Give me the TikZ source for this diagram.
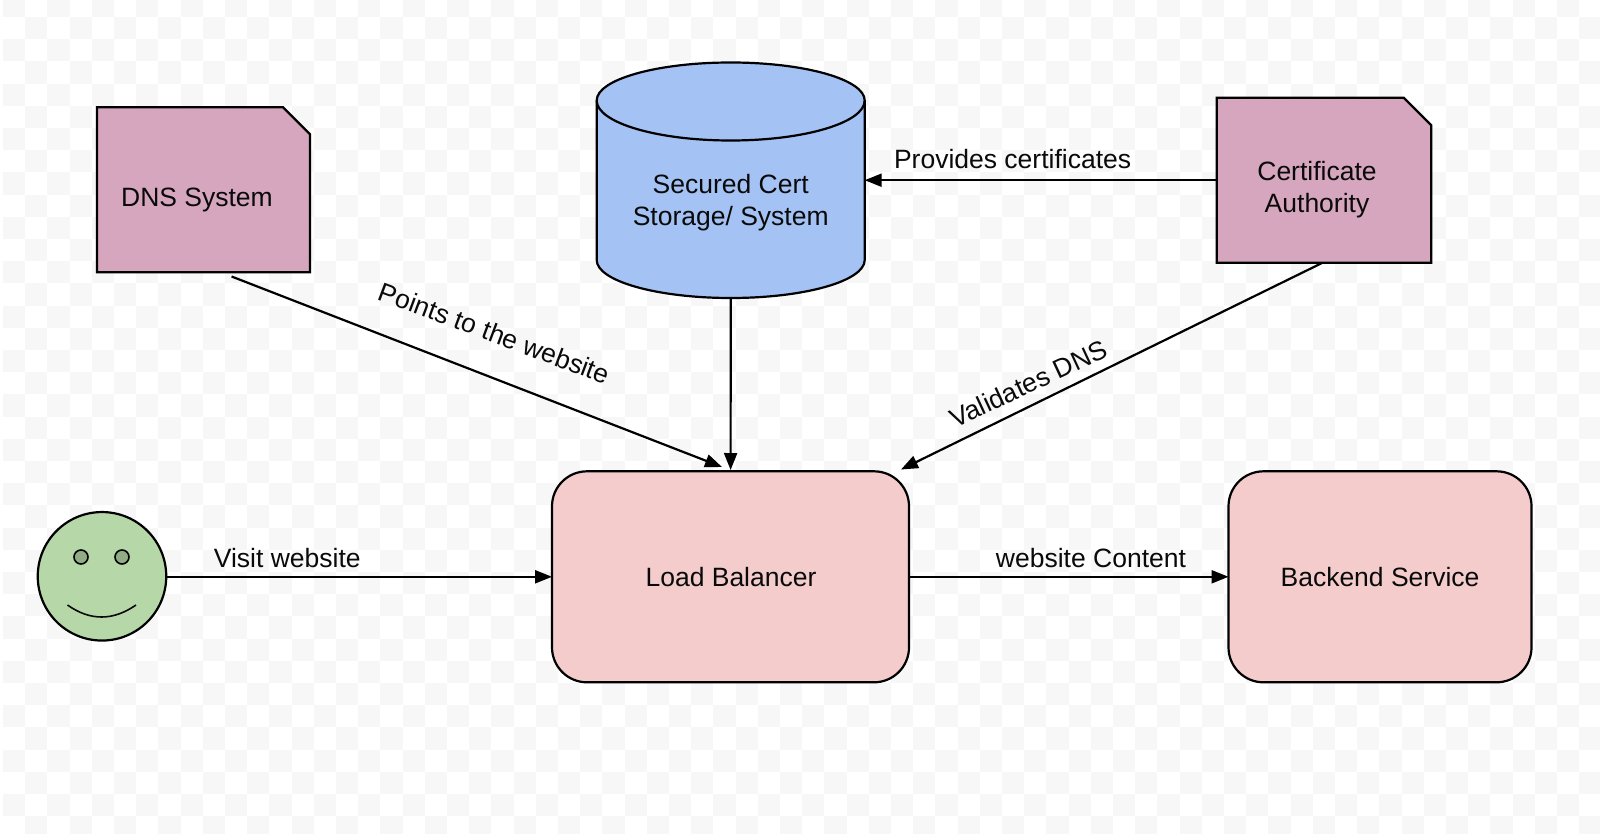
\documentclass[tikz,border=0pt]{standalone}
\usepackage{fontspec}
\setmainfont{Liberation Sans}
\usetikzlibrary{arrows.meta,calc}
\definecolor{notecol}{HTML}{D5A6BD}
\definecolor{cylcol}{HTML}{A4C2F4}
\definecolor{rosecol}{HTML}{F4CCCC}
\definecolor{facecol}{HTML}{B6D7A8}
\definecolor{eyecol}{HTML}{92AC86}
\definecolor{checkcol}{HTML}{F7F7F7}
\definecolor{inkcol}{HTML}{0A0A0A}
\tikzset{
  every node/.style={font=\fontsize{26.5}{32}\selectfont,text=inkcol,align=center,inner sep=0pt,outer sep=0pt},
  outline/.style={draw=black,line width=2.2pt,line join=miter},
  roundbox/.style={rectangle,draw=black,fill=rosecol,line width=2.2pt,rounded corners=35pt,minimum height=211pt},
  link/.style={draw=black,line width=2.2pt,-{Triangle[length=17pt,width=13pt]},shorten >=0pt},
}
\begin{document}
\begin{tikzpicture}[x=1pt,y=-1pt]
\useasboundingbox (0,0) rectangle (1600,834);
% checker background
\fill[white] (0,0) rectangle (1600,834);
\begin{scope}
\clip (3,0) rectangle (1600,834);
\foreach \c in {0,...,72}{
  \foreach \r in {0,...,38}{
    \pgfmathparse{int(mod(\c+\r,2))}
    \ifnum\pgfmathresult=0
      \fill[checkcol] ({3+\c*22.2},{-5.2+\r*22.2}) rectangle ({3+(\c+1)*22.2},{-5.2+(\r+1)*22.2});
    \fi
  }
}
\end{scope}
% DNS note
\node[rectangle,minimum width=213pt,minimum height=165pt] (dns) at (203.5,189.8) {};
\filldraw[outline,fill=notecol] (dns.north west) -- ($(dns.north east)+(-27,0)$) -- ($(dns.north east)+(0,27)$) -- (dns.south east) -- (dns.south west) -- cycle;
\node (dnstext) at (197,200) {DNS System};
% CA note
\node[rectangle,minimum width=214.5pt,minimum height=165pt] (ca) at (1323.9,180.2) {};
\filldraw[outline,fill=notecol] (ca.north west) -- ($(ca.north east)+(-27.5,0)$) -- ($(ca.north east)+(0,27.5)$) -- (ca.south east) -- (ca.south west) -- cycle;
\node (catext) at (1317,189.5) {Certificate\\Authority};
% Cylinder
\node[rectangle,minimum width=268pt,minimum height=236pt] (cyl) at (730.7,180) {};
\filldraw[outline,fill=cylcol] (596.7,100.5) arc[start angle=180,end angle=360,x radius=134,y radius=38]
  -- (864.7,260) arc[start angle=0,end angle=180,x radius=134,y radius=38] -- cycle;
\draw[outline] (596.7,100.5) arc[start angle=180,end angle=0,x radius=134,y radius=40];
\node (cyltext) at (730.7,203) {Secured Cert\\Storage/ System};
% Rounded boxes
\node[roundbox,minimum width=357pt] (lb) at (730.5,576.8) {\raisebox{-1pt}{\hspace{1pt}Load Balancer}};
\node[roundbox,minimum width=303pt] (be) at (1380,576.8) {\raisebox{-1pt}{Backend Service}};
% Face
\node[circle,draw=black,fill=facecol,line width=2.2pt,minimum size=128.5pt] (face) at (102,576.3) {};
\node[circle,draw=black,fill=eyecol,line width=1.6pt,minimum size=14pt] (eyel) at (81,557) {};
\node[circle,draw=black,fill=eyecol,line width=1.6pt,minimum size=14pt] (eyer) at (122,557) {};
\draw[line width=1.6pt,draw=inkcol] (67.5,605) .. controls (90,621) and (113,621) .. (136,605);
% free ends of connectors
\coordinate (dnsout) at (231.6,276.5);
\coordinate (lbdns) at (722,467);
\coordinate (caout) at (1322,263);
\coordinate (lbca) at (901,469.5);
\coordinate (lbtop) at (730.6,470);
% connectors
\draw[link] (dnsout) -- (lbdns);
\draw[link] (cyl.south) -- (lbtop);
\draw[link] (caout) -- (lbca);
\draw[link] (ca.west) -- (ca.west -| cyl.east);
\draw[link] (face.east |- lb.west) -- (lb.west);
\draw[link] (lb.east) -- (be.west);
% labels
\node[rotate=-20.5] (l1) at (494.5,333) {Points to the website};
\node[rotate=25] (l2) at (1028.5,383.5) {Validates DNS};
\node (l3) at (1012.6,159) {Provides certificates};
\node (l4) at (287.3,558) {Visit website};
\node (l5) at (1091,558) {website Content};
\end{tikzpicture}
\end{document}
